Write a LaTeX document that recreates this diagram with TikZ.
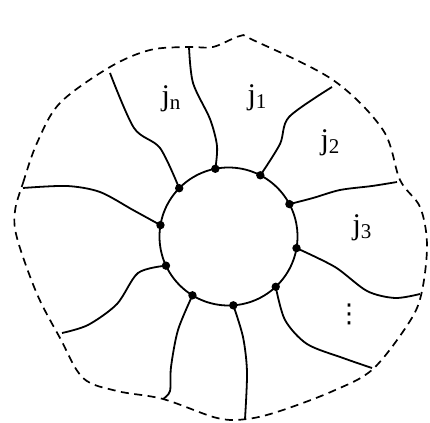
\documentclass[tikz,border=0pt]{standalone}
\usepackage{fontspec}
\setmainfont{Liberation Serif}
\newfontfamily\dotsfont{DejaVu Sans}
\usetikzlibrary{arrows.meta,calc}

\newcommand{\jlab}[1]{j\raisebox{-0.3ex}{\fontsize{21}{21}\selectfont #1}}

\tikzset{
	wire/.style={line width=1.8pt},
	border/.style={line width=1.7pt, dash pattern=on 8pt off 5.5pt},
	lab/.style={font=\fontsize{30}{30}\selectfont, inner sep=0pt}
}

\begin{document}
\begin{tikzpicture} [x=1pt, y=1pt]
	\useasboundingbox (0,0) rectangle (430,422);
	%\draw[help lines, step=10] (0,0) grid (430,422);
	\coordinate (c) at (228.5,185.5);
	\draw[wire] (c) circle (69);
	% points on the circle
	\foreach \n/\a in {1/135.6, 2/101, 3/62.5, 4/28, 5/-9.7, 6/-46.8, 7/-86, 8/-121.5, 9/205, 10/170.5}
		\coordinate (d\n) at ($(c)+(\a:69)$);
	% free ends on the border
	\coordinate (e1) at (110,349);
	\coordinate (e2) at (189,375);
	\coordinate (e3) at (332,335);
	\coordinate (e4) at (397,240);
	\coordinate (e5) at (420,128);
	\coordinate (e6) at (372,54);
	\coordinate (e7) at (245,3);
	\coordinate (e8) at (163,23);
	\coordinate (e9) at (62,89);
	\coordinate (e10) at (23,234);
	% border
	\draw[border] plot[smooth cycle, tension=0.55] coordinates {(15,211) (23,239) (37,279) (60,319) (110,355) (150,372) (188,375) (213,375) (240,386) (253,382) (333,342) (383,292) (400,242) (420,215) (427,178) (422,131) (410,101) (373,53) (333,31) (280,11) (247,3) (217,4) (163,23) (117,31) (83,44) (60,84) (37,128) (17,184)};
	% lines
	\draw[wire] plot[smooth] coordinates {(d1) (160,274) (134,294) (e1)};
	\draw[wire] plot[smooth] coordinates {(d2) (217,276) (210,303) (193,339) (e2)};
	\draw[wire] plot[smooth] coordinates {(d3) (280,278) (289,305) (e3)};
	\draw[wire] plot[smooth] coordinates {(d4) (313,224) (340,232) (372,236) (e4)};
	\draw[wire] plot[smooth] coordinates {(d5) (335,155) (367,131) (395,124) (e5)};
	\draw[wire] plot[smooth] coordinates {(d6) (285,102) (307,78) (343,64) (e6)};
	\draw[wire] plot[smooth] coordinates {(d7) (243,85) (247,50) (e7)};
	\draw[wire] plot[smooth] coordinates {(d8) (178,92) (171,55) (170,31) (e8)};
	\draw[wire] plot[smooth] coordinates {(d9) (138,149) (117,118) (88,97) (e9)};
	\draw[wire] plot[smooth] coordinates {(d10) (133,212) (100,230) (67,236) (e10)};
	\foreach \n in {1,...,10}
		\fill (d\n) circle (4.2);
	% labels
	\node[lab] (jn) at (171,323) {\jlab{n}};
	\node[lab] (j1) at (257,324) {\jlab{1}};
	\node[lab] (j2) at (330,279) {\jlab{2}};
	\node[lab] (j3) at (362,194) {\jlab{3}};
	\node[lab, font=\dotsfont\fontsize{26}{26}\selectfont] (jd) at (349,108) {⋮};
\end{tikzpicture}
\end{document}
